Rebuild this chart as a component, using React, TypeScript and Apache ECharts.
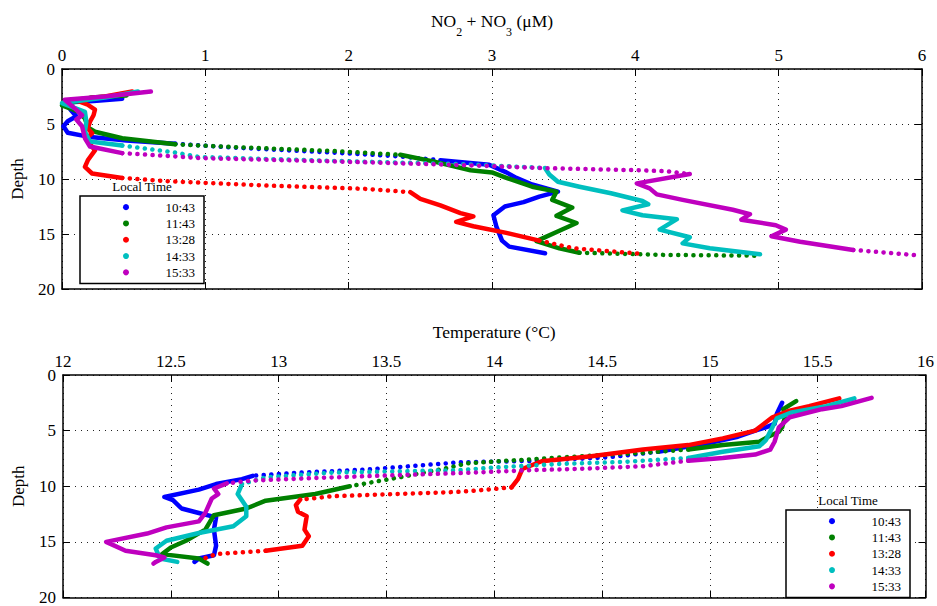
import React, { useEffect, useRef } from 'react';
import * as echarts from 'echarts';

const FONT = "'Liberation Serif', 'Times New Roman', serif";

const TIMES = ['10:43', '11:43', '13:28', '14:33', '15:33'];
const COLORS = ['#0000ff', '#008000', '#ff0000', '#00bfbf', '#bf00bf'];

// axis ranges [min, max, interval]
const NO3_RANGE = [0, 6, 1];
const TEMP_RANGE = [12, 16, 0.5];
const DEPTH_RANGE = [0, 20, 5];

// NO2+NO3 (µM) vs depth (m)
const NO3_1043 = [
  [0.42, 2.7], [0.22, 2.9], [0.02, 3.05], [0.06, 3.7], [0.10, 4.3], [0.04, 4.75], [0.01, 5.2], [0.04, 5.8],
  [0.18, 6.15], [0.45, 6.5], [0.79, 6.8], [1.2, 7.15], [1.89, 7.6], [2.36, 7.95], [2.64, 8.3], [2.98, 8.7],
  [3.10, 9.4], [3.17, 9.9], [3.28, 10.5], [3.46, 11.15], [3.33, 11.6], [3.22, 12.1], [3.09, 12.5], [3.01, 13.3],
  [3.03, 14.3], [3.07, 15.6], [3.12, 16.15], [3.37, 16.75],
];
const NO3_1143 = [
  [0.45, 2.4], [0.20, 2.6], [0.0, 3.3], [0.12, 3.9], [0.16, 4.5], [0.18, 5.3], [0.23, 5.7], [0.42, 6.3],
  [0.79, 6.85], [1.2, 7.1], [1.89, 7.45], [2.36, 7.8], [2.59, 8.4], [2.85, 9.2], [3.00, 9.4], [3.10, 9.9],
  [3.28, 10.7], [3.45, 11.15], [3.42, 11.9], [3.56, 12.6], [3.45, 13.35], [3.59, 14.0], [3.47, 14.7],
  [3.31, 15.65], [3.47, 16.3], [3.61, 16.7], [4.2, 16.9], [4.83, 16.97],
];
const NO3_1328 = [
  [0.49, 2.05], [0.30, 2.5], [0.09, 2.8], [0.18, 3.25], [0.23, 3.7], [0.22, 4.2], [0.195, 4.8], [0.18, 5.4],
  [0.21, 5.85], [0.17, 6.3], [0.20, 6.9], [0.23, 7.4], [0.18, 8.3], [0.16, 8.9], [0.21, 9.5], [0.42, 9.9],
  [0.73, 10.2], [1.43, 10.6], [2.12, 10.9], [2.43, 11.2], [2.50, 11.8], [2.64, 12.4], [2.78, 13.1],
  [2.87, 13.4], [2.75, 13.9], [2.87, 14.3], [3.10, 14.9], [3.33, 15.6], [3.57, 16.3], [4.04, 16.8],
];
const NO3_1433 = [
  [0.53, 2.05], [0.30, 2.6], [0.0, 3.1], [0.16, 3.9], [0.17, 4.8], [0.16, 5.7], [0.195, 6.6], [0.42, 6.95],
  [0.79, 7.6], [0.96, 8.0], [1.89, 8.35], [2.83, 8.67], [3.37, 9.0], [3.40, 9.6], [3.46, 10.25], [3.61, 10.7],
  [3.83, 11.3], [4.05, 12.0], [4.09, 12.3], [3.91, 12.85], [4.05, 13.3], [4.29, 13.65], [4.17, 14.6],
  [4.38, 15.3], [4.33, 15.85], [4.52, 16.3], [4.87, 16.85],
];
const NO3_1533 = [
  [0.62, 2.05], [0.30, 2.5], [0.02, 2.8], [0.09, 3.6], [0.14, 4.2], [0.10, 4.6], [0.14, 5.2], [0.16, 6.3],
  [0.195, 7.05], [0.42, 7.65], [0.79, 7.95], [0.96, 8.1], [1.89, 8.4], [2.83, 8.75], [3.33, 9.0], [4.01, 9.2],
  [4.22, 9.3], [4.38, 9.55], [4.01, 10.4], [4.10, 10.85], [4.15, 11.4], [4.33, 11.9], [4.68, 12.8],
  [4.80, 13.2], [4.74, 13.7], [4.98, 14.2], [5.05, 14.6], [4.95, 15.2], [5.15, 15.7], [5.52, 16.45], [5.98, 16.95],
];

// Temperature (°C) vs depth (m)
const T_1043 = [
  [15.335, 2.5], [15.31, 3.5], [15.30, 4.4], [15.26, 4.7], [15.21, 5.0], [15.13, 5.55], [15.0, 6.1],
  [14.76, 6.9], [14.53, 7.4], [14.22, 7.7], [13.84, 7.85], [13.41, 8.5], [13.10, 8.77], [12.88, 9.06],
  [12.83, 9.36], [12.71, 9.8], [12.63, 10.3], [12.47, 10.96], [12.51, 11.25], [12.55, 12.0], [12.63, 12.4],
  [12.71, 12.8], [12.70, 13.9], [12.71, 15.35], [12.70, 16.2], [12.63, 16.5], [12.61, 16.8],
];
const T_1143 = [
  [15.40, 2.34], [15.34, 3.07], [15.35, 3.65], [15.335, 4.7], [15.32, 5.1], [15.27, 5.55], [15.23, 6.0],
  [15.06, 6.3], [14.90, 6.7], [14.69, 7.0], [14.45, 7.25], [14.15, 7.6], [13.87, 7.95], [13.79, 8.33],
  [13.56, 9.2], [13.33, 10.0], [13.17, 10.7], [12.94, 11.3], [12.85, 12.0], [12.70, 12.6], [12.66, 13.9],
  [12.57, 14.9], [12.50, 15.5], [12.46, 16.1], [12.63, 16.5], [12.67, 16.95],
];
const T_1328 = [
  [15.60, 2.1], [15.46, 2.8], [15.37, 3.2], [15.29, 3.8], [15.21, 5.0], [15.06, 5.7], [14.90, 6.3],
  [14.69, 6.7], [14.45, 7.3], [14.22, 7.75], [14.13, 8.45], [14.11, 9.36], [14.08, 10.1], [13.91, 10.4],
  [13.84, 10.5], [13.25, 10.9], [13.10, 11.2], [13.08, 11.7], [13.09, 12.3], [13.13, 12.7], [13.12, 13.9],
  [13.14, 14.5], [13.11, 15.35], [12.94, 15.8], [12.71, 16.1], [12.63, 16.67],
];
const T_1433 = [
  [15.67, 2.1], [15.54, 2.8], [15.38, 3.36], [15.31, 3.9], [15.29, 4.7], [15.26, 5.85], [15.23, 6.4],
  [15.06, 6.9], [14.90, 7.46], [14.61, 7.8], [14.30, 8.0], [13.99, 8.33], [13.84, 8.55], [13.25, 8.77],
  [12.94, 9.2], [12.83, 9.8], [12.81, 10.7], [12.85, 11.85], [12.85, 12.7], [12.79, 13.6], [12.63, 14.2],
  [12.48, 14.9], [12.43, 15.6], [12.45, 16.5], [12.53, 16.8],
];
const T_1533 = [
  [15.75, 2.05], [15.61, 2.8], [15.52, 3.07], [15.37, 3.8], [15.32, 4.7], [15.30, 6.0], [15.28, 6.7],
  [15.21, 7.15], [15.06, 7.46], [14.90, 7.7], [14.69, 8.2], [14.45, 8.4], [14.15, 8.57], [13.87, 8.8],
  [13.25, 9.2], [12.87, 9.5], [12.76, 9.74], [12.70, 10.2], [12.72, 10.7], [12.69, 11.1], [12.66, 12.4],
  [12.63, 13.16], [12.48, 13.7], [12.39, 14.25], [12.20, 15.0], [12.29, 15.8], [12.43, 16.2], [12.47, 16.4],
  [12.43, 16.8], [12.42, 16.95],
];

const NO3_SERIES = [NO3_1043, NO3_1143, NO3_1328, NO3_1433, NO3_1533];
const TEMP_SERIES = [T_1043, T_1143, T_1328, T_1433, T_1533];

// index ranges of each profile where the sampled dots are spread apart (drawn dotted)
const NO3_SPARSE = [[[10, 14]], [[8, 11], [25, 27]], [[15, 19], [27, 29]], [[7, 12]], [[9, 17], [29, 30]]];
const TEMP_SPARSE = [[[7, 13]], [[8, 15]], [[12, 16], [23, 25]], [[8, 15]], [[9, 16]]];

const txt = { fontFamily: FONT, color: '#000' };
const GAP = ['-', '-'];

function pieces(data: number[][], ranges: number[][], wantSparse: boolean) {
  const isSparse = (k: number) => ranges.some(([a, b]) => k >= a && k < b);
  const out: any[] = [];
  let last = -2;
  for (let k = 0; k < data.length - 1; k++) {
    if (isSparse(k) !== wantSparse) continue;
    if (last !== k) {
      if (out.length) out.push(GAP);
      out.push(data[k]);
    }
    out.push(data[k + 1]);
    last = k + 1;
  }
  return out;
}

function xAxesFor(gridIndex: number, range: number[], name: string, nameGap: number, rich?: any) {
  const common = {
    type: 'value', gridIndex, min: range[0], max: range[1], interval: range[2],
    axisLine: { show: true, onZero: false, lineStyle: { color: '#000', width: 1.5 } },
    axisTick: { show: true, inside: true, length: 7, lineStyle: { color: '#000', width: 1 } },
  };
  return [
    {
      ...common, position: 'top', name, nameLocation: 'middle', nameGap,
      nameTextStyle: { ...txt, fontSize: 17.5, rich },
      axisLabel: { ...txt, fontSize: 17, margin: 5 },
      splitLine: { show: true, lineStyle: { color: '#222', width: 1, type: [1, 5] } },
    },
    { ...common, position: 'bottom', axisLabel: { show: false }, splitLine: { show: false } },
  ];
}

function yAxesFor(gridIndex: number) {
  const common = {
    type: 'value', gridIndex, inverse: true, min: DEPTH_RANGE[0], max: DEPTH_RANGE[1], interval: DEPTH_RANGE[2],
    axisLine: { show: true, onZero: false, lineStyle: { color: '#000', width: 1.5 } },
    axisTick: { show: true, inside: true, length: 7, lineStyle: { color: '#000', width: 1 } },
  };
  return [
    {
      ...common, position: 'left', name: 'Depth', nameLocation: 'middle', nameGap: 36,
      nameTextStyle: { ...txt, fontSize: 17 },
      axisLabel: { ...txt, fontSize: 17, margin: 7 },
      splitLine: { show: true, lineStyle: { color: '#222', width: 1, type: [1, 5] } },
    },
    { ...common, position: 'right', axisLabel: { show: false }, splitLine: { show: false } },
  ];
}

function legendFor(left: number, top: number) {
  return {
    data: TIMES, orient: 'vertical', left, top, padding: [3, 9, 3, 43], itemGap: 0,
    itemWidth: 6, itemHeight: 6, icon: 'circle', selectedMode: false,
    borderColor: '#000', borderWidth: 1.5, backgroundColor: '#fff',
    formatter: (n: string) => `{r|${n}}`,
    textStyle: {
      ...txt, fontSize: 13, lineHeight: 16.3,
      rich: { r: { ...txt, fontSize: 13, lineHeight: 16.3, width: 61, align: 'right' } },
    },
  };
}

function profileSeries(profiles: number[][][], sparse: number[][][], axisIndex: number) {
  const out: any[] = [];
  profiles.forEach((d, i) => {
    const base = {
      type: 'line', name: TIMES[i], xAxisIndex: axisIndex, yAxisIndex: axisIndex, showSymbol: false,
      connectNulls: false, color: COLORS[i],
    };
    out.push({
      ...base, data: pieces(d, sparse[i], false),
      lineStyle: { color: COLORS[i], width: 4.5, cap: 'round', join: 'round' },
    });
    out.push({
      ...base, data: pieces(d, sparse[i], true),
      lineStyle: { color: COLORS[i], width: 4.5, cap: 'round', join: 'round', type: [0.1, 7.5] },
    });
  });
  return out;
}

export default function App() {
  const ref = useRef<HTMLDivElement>(null);
  useEffect(() => {
    if (!ref.current) return;
    const chart = echarts.init(ref.current, null, { renderer: 'svg' });
    const sub = { ...txt, fontSize: 12, padding: [22, 0, 0, 0] };
    const mainRich = { n: { ...txt, fontSize: 17.5 }, s: sub };
    chart.setOption({
      animation: false,
      backgroundColor: '#fff',
      grid: [
        { left: 62, top: 69, width: 860, height: 220 },
        { left: 63, top: 375, width: 864, height: 228 },
      ],
      xAxis: [
        ...xAxesFor(0, NO3_RANGE, '{n|NO}{s|2}{n| + NO}{s|3}{n| (μM)}', 31, mainRich),
        ...xAxesFor(1, TEMP_RANGE, 'Temperature (°C)', 34),
      ],
      yAxis: [...yAxesFor(0), ...yAxesFor(1)],
      legend: [legendFor(80, 196), legendFor(786, 510)],
      graphic: [
        { type: 'text', x: 142, y: 186, z: 100, style: { text: 'Local Time', fontFamily: FONT, fontSize: 13, fill: '#000', align: 'center', verticalAlign: 'middle' } },
        { type: 'text', x: 848, y: 500, z: 100, style: { text: 'Local Time', fontFamily: FONT, fontSize: 13, fill: '#000', align: 'center', verticalAlign: 'middle' } },
      ],
      series: [...profileSeries(NO3_SERIES, NO3_SPARSE, 0), ...profileSeries(TEMP_SERIES, TEMP_SPARSE, 2)],
    });
    return () => chart.dispose();
  }, []);
  return <div ref={ref} style={{ position: 'absolute', left: 0, top: 0, width: 937, height: 606 }} />;
}
